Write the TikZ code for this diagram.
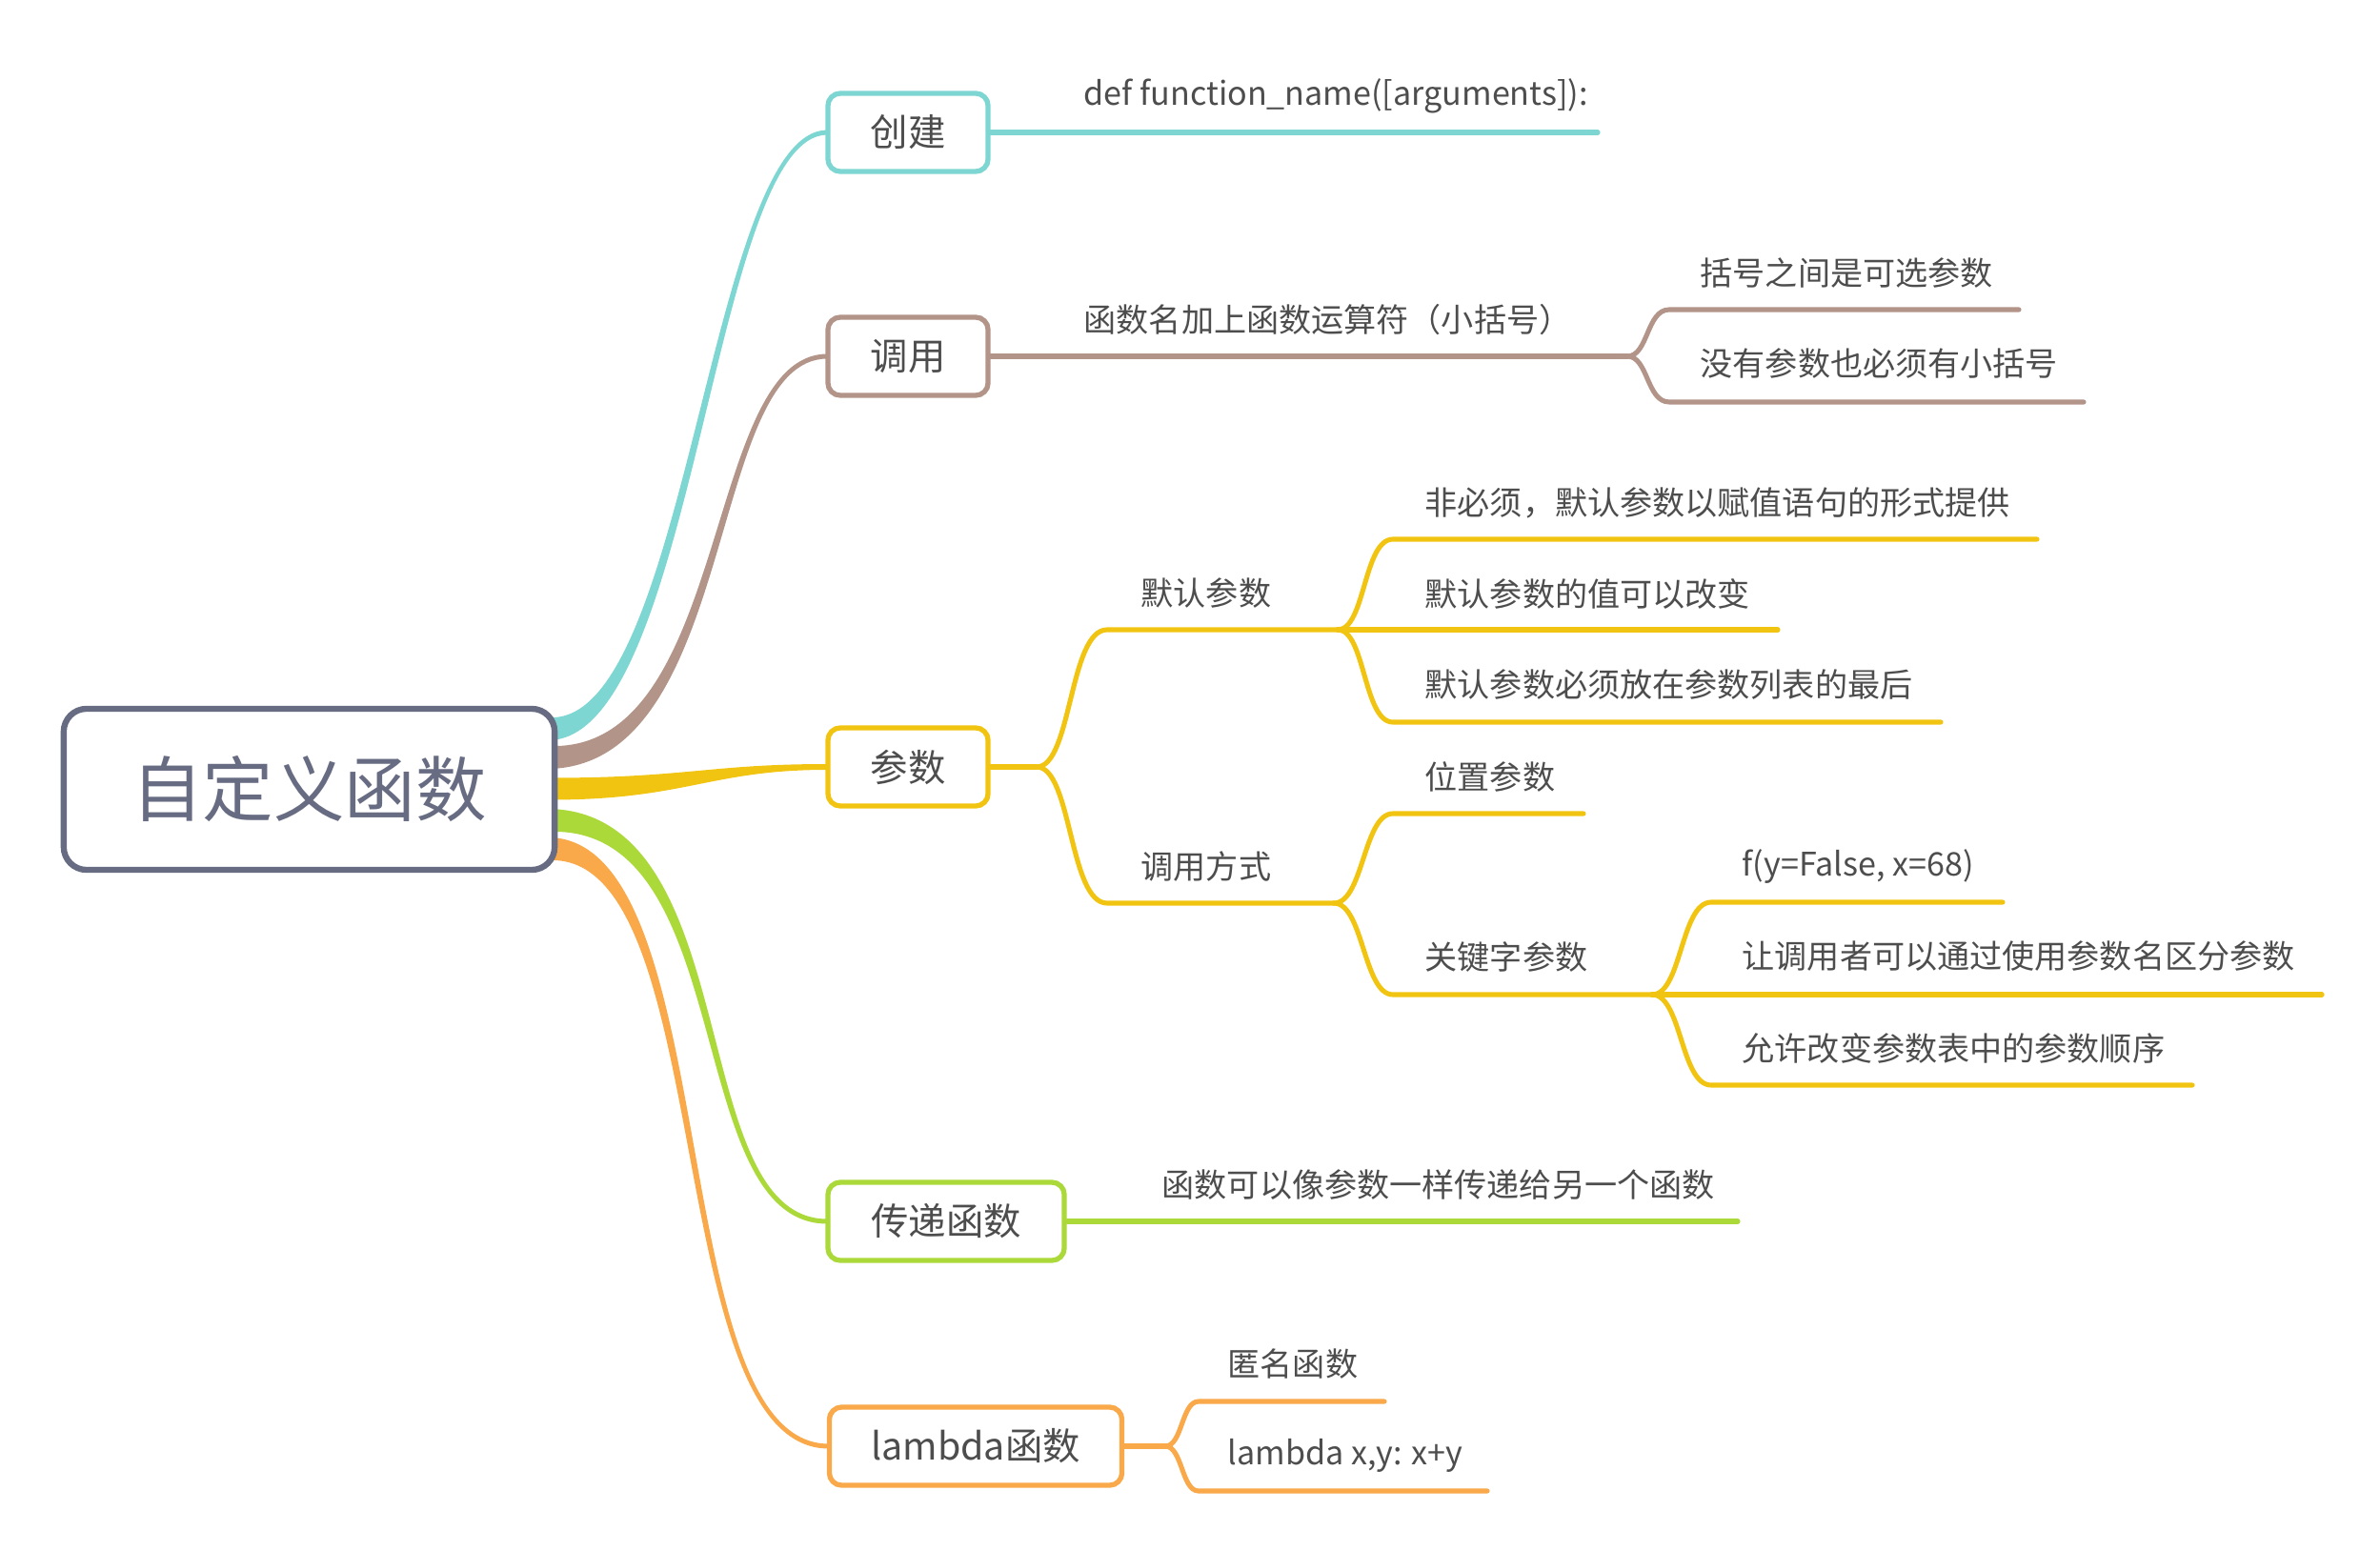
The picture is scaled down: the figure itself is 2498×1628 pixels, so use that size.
\documentclass[tikz,border=0pt]{standalone}
\usepackage{fontspec}
\setmainfont{Noto Sans CJK SC}
\usetikzlibrary{calc}
\pgfdeclarelayer{background}
\pgfsetlayers{background,main}
\definecolor{cCyan}{HTML}{7ED6D2}
\definecolor{cBrown}{HTML}{B39488}
\definecolor{cYellow}{HTML}{F2C412}
\definecolor{cGreen}{HTML}{ABD93A}
\definecolor{cOrange}{HTML}{F9A84A}
\definecolor{cRoot}{HTML}{676C83}
\definecolor{cText}{HTML}{4D4D4D}
\begin{document}
\begin{tikzpicture}[x=0.01cm,y=-0.01cm,
  rootbox/.style={draw=cRoot, line width=1.8pt, fill=white, rounded corners=0.24cm,
    minimum width=5.15cm, minimum height=1.69cm, text=cRoot, inner sep=0pt,
    font=\fontsize{21.2pt}{24pt}\selectfont},
  topicbox/.style={draw=#1, line width=1.5pt, fill=white, rounded corners=0.13cm,
    minimum height=0.82cm, text=cText, inner sep=0pt,
    font=\fontsize{11.2pt}{13pt}\selectfont},
  leaf/.style={anchor=west, text=cText, inner sep=0pt,
    font=\fontsize{9.7pt}{11pt}\selectfont},
  link/.style={draw=#1, line width=1.45pt, line cap=round},
]
\useasboundingbox (0,0) rectangle (2498,1628);

% nodes
\node[rootbox] (root) at (324.5,828.5) {自定义函数};
\node[topicbox=cCyan, minimum width=1.68cm] (create) at (953,139) {创建};
\node[topicbox=cBrown, minimum width=1.68cm] (call) at (953,374) {调用};
\node[topicbox=cYellow, minimum width=1.68cm] (param) at (953,805) {参数};
\node[topicbox=cGreen, minimum width=2.48cm] (pass) at (993,1282) {传递函数};
\node[topicbox=cOrange, minimum width=3.07cm] (lam) at (1024,1518) {lambda函数};

% tapered main branches
\begin{pgfonlayer}{background}
\fill[cCyan] ($(root.east)+(-8,-75.5)$) .. controls (722,759) and (744,136.5) .. ($(create.west)+(2,-2.5)$)
  -- ($(create.west)+(2,2.5)$) .. controls (748,141.5) and (730,771) .. ($(root.east)+(-8,-51.5)$) -- cycle;
\fill[cBrown] ($(root.east)+(-8,-45.5)$) .. controls (767,789) and (738,371.5) .. ($(call.west)+(2,-2.5)$)
  -- ($(call.west)+(2,2.5)$) .. controls (742,376.5) and (775,801) .. ($(root.east)+(-8,-21.5)$) -- cycle;
\fill[cYellow] ($(root.east)+(-8,-12)$) .. controls (720,816.5) and (745,802) .. ($(param.west)+(2,-3)$)
  -- ($(param.west)+(2,3)$) .. controls (745,808) and (720,839.5) .. ($(root.east)+(-8,11)$) -- cycle;
\fill[cGreen] ($(root.east)+(-8,20.5)$) .. controls (784,855) and (719,1279.5) .. ($(pass.west)+(2,-2.5)$)
  -- ($(pass.west)+(2,2.5)$) .. controls (715,1284.5) and (776,867) .. ($(root.east)+(-8,44.5)$) -- cycle;
\fill[cOrange] ($(root.east)+(-8,50.5)$) .. controls (761,885) and (697,1515.5) .. ($(lam.west)+(2,-2.5)$)
  -- ($(lam.west)+(2,2.5)$) .. controls (693,1520.5) and (753,897) .. ($(root.east)+(-8,74.5)$) -- cycle;
\end{pgfonlayer}

% 创建
\coordinate (e1) at (1677,139);
\draw[link=cCyan] (create.east) -- (e1);
\node[leaf] (t1) at (1137,101) {def function\_name([arguments]):};

% 调用
\coordinate (f1) at (1708,374);
\coordinate (e21) at (2119,325);
\coordinate (e22) at (2187,422);
\draw[link=cBrown] (call.east) -- (f1);
\draw[link=cBrown] (f1) .. controls (1730,374) and (1728,325) .. (1752,325) -- (e21);
\draw[link=cBrown] (f1) .. controls (1730,374) and (1728,422) .. (1752,422) -- (e22);
\node[leaf] (t2) at (1137,336) {函数名加上函数运算符（小括号）};
\node[leaf] (t21) at (1784,287) {括号之间是可选参数};
\node[leaf] (t22) at (1784,382) {没有参数也必须有小括号};

% 参数
\coordinate (f2) at (1088,805);
\coordinate (f3) at (1404,661);
\coordinate (f4) at (1400,948);
\coordinate (f5) at (1734,1044);
\draw[link=cYellow] (param.east) -- (f2);
\draw[link=cYellow] (f2) .. controls (1125,805) and (1122,661) .. (1162,661) -- (f3);
\draw[link=cYellow] (f2) .. controls (1125,805) and (1122,948) .. (1162,948) -- (f4);
\node[leaf] (t3) at (1197,623) {默认参数};
\node[leaf] (t4) at (1197,910) {调用方式};

\coordinate (e31) at (2138,566);
\coordinate (e32) at (1866,661);
\coordinate (e33) at (2037,758);
\draw[link=cYellow] (f3) .. controls (1433,661) and (1431,566) .. (1462,566) -- (e31);
\draw[link=cYellow] (f3) -- (e32);
\draw[link=cYellow] (f3) .. controls (1433,661) and (1431,758) .. (1462,758) -- (e33);
\node[leaf] (t31) at (1495,528) {非必须，默认参数以赋值语句的形式提供};
\node[leaf] (t32) at (1495,623) {默认参数的值可以改变};
\node[leaf] (t33) at (1495,719) {默认参数必须放在参数列表的最后};

\coordinate (e41) at (1662,854);
\draw[link=cYellow] (f4) .. controls (1431,948) and (1431,854) .. (1462,854) -- (e41);
\draw[link=cYellow] (f4) .. controls (1431,948) and (1431,1044) .. (1462,1044) -- (f5);
\node[leaf] (t41) at (1495,815) {位置参数};
\node[leaf] (t42) at (1495,1004) {关键字参数};

\coordinate (e51) at (2102,947);
\coordinate (e52) at (2437,1044);
\coordinate (e53) at (2301,1139);
\draw[link=cYellow] (f5) .. controls (1765,1044) and (1764,947) .. (1796,947) -- (e51);
\draw[link=cYellow] (f5) -- (e52);
\draw[link=cYellow] (f5) .. controls (1765,1044) and (1764,1139) .. (1796,1139) -- (e53);
\node[leaf] (t51) at (1828,910) {f(y=False, x=68)};
\node[leaf] (t52) at (1828,1004) {让调用者可以通过使用参数名区分参数};
\node[leaf] (t53) at (1828,1100) {允许改变参数表中的参数顺序};

% 传递函数
\coordinate (e6) at (1824,1282);
\draw[link=cGreen] (pass.east) -- (e6);
\node[leaf] (t6) at (1219,1244) {函数可以像参数一样传递给另一个函数};

% lambda函数
\coordinate (f6) at (1223,1518);
\coordinate (e71) at (1453,1471);
\coordinate (e72) at (1561,1565);
\draw[link=cOrange] (lam.east) -- (f6);
\draw[link=cOrange] (f6) .. controls (1241,1518) and (1240,1471) .. (1258,1471) -- (e71);
\draw[link=cOrange] (f6) .. controls (1241,1518) and (1240,1565) .. (1258,1565) -- (e72);
\node[leaf] (t71) at (1288,1432) {匿名函数};
\node[leaf] (t72) at (1288,1528) {lambda x,y: x+y};
\end{tikzpicture}
\end{document}
